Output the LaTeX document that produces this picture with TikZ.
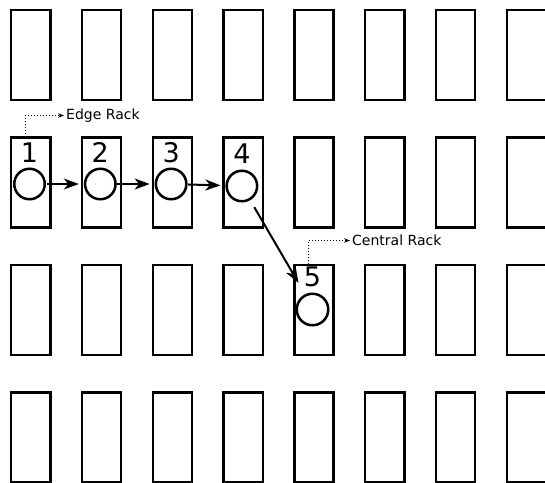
\documentclass[tikz,border=0pt]{standalone}
\usepackage{fontspec}
\setmainfont{DejaVu Sans}
\usetikzlibrary{arrows.meta}
\begin{document}
\begin{tikzpicture}[x=1pt,y=-1pt,
  rack/.style={draw,line width=2.5pt,minimum width=39.2pt,minimum height=90pt,inner sep=0pt,anchor=north west},
  disk/.style={draw,circle,line width=2.5pt,minimum size=30.5pt,inner sep=0pt},
  num/.style={font=\fontsize{27}{27}\selectfont,inner sep=0pt},
  tag/.style={font=\fontsize{14}{14}\selectfont,inner sep=2pt,anchor=west},
  hop/.style={line width=2pt,-{Stealth[length=15pt,width=11pt,inset=4.5pt]}},
  dotarr/.style={line width=1pt,dotted,-{Stealth[length=6pt,width=4.5pt]}}]
\useasboundingbox (0,0) rectangle (545,482);
\foreach \r in {0,1,2,3}{
  \foreach \c in {0,...,7}{
    \node[rack] (r\r\c) at (9.95+70.8*\c, 8.75+127.5*\r) {};
  }
}
% circles
\node[disk] (c1) at (29.5,184) {};
\node[disk] (c2) at (100.3,184) {};
\node[disk] (c3) at (171.1,184) {};
\node[disk] (c4) at (241.9,186) {};
\node[disk,minimum size=31.5pt] (c5) at (312.5,309.5) {};
% numbers
\node[num] (n1) at (29.5,152.5) {1};
\node[num] (n2) at (100.3,152.5) {2};
\node[num] (n3) at (171.1,152.5) {3};
\node[num] (n4) at (241.9,154) {4};
\node[num] (n5) at (312.5,277) {5};
% arrows
\draw[hop,shorten <=0.5pt,shorten >=5pt] (c1) -- (c2);
\draw[hop,shorten <=0.5pt,shorten >=5pt] (c2) -- (c3);
\draw[hop,shorten <=0.5pt,shorten >=5pt] (c3) -- (c4);
\coordinate (t5) at (298.5,283);
\draw[hop,shorten <=8pt] (c4) -- (t5);
% dotted tags
\node[tag] (edge) at (64,115.5) {Edge Rack};
\coordinate (e0) at (25,136.5);
\draw[dotarr] (e0) |- (edge.west);
\node[tag] (central) at (350,240.5) {Central Rack};
\coordinate (e1) at (308.5,264);
\draw[dotarr] (e1) |- (central.west);
\end{tikzpicture}
\end{document}
